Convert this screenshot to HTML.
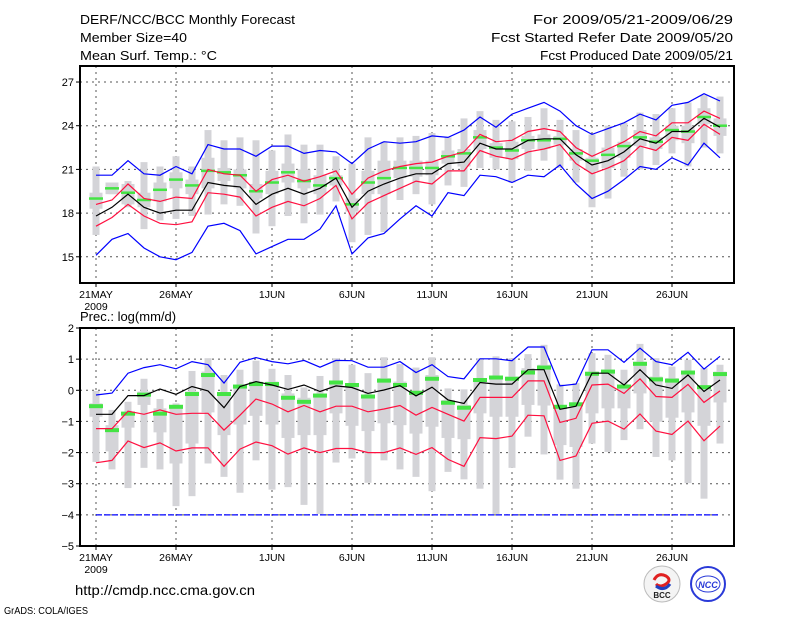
<!DOCTYPE html>
<html><head><meta charset="utf-8">
<style>
html,body{margin:0;padding:0;background:#fff;}
svg{display:block;font-family:"Liberation Sans","DejaVu Sans",sans-serif;}
</style></head>
<body>
<svg id="chart" width="800" height="618" viewBox="0 0 800 618" xmlns="http://www.w3.org/2000/svg">
<g font-size="13" fill="#000">
<text x="80" y="24" textLength="215" lengthAdjust="spacingAndGlyphs">DERF/NCC/BCC Monthly Forecast</text>
<text x="80" y="42" textLength="107" lengthAdjust="spacingAndGlyphs">Member Size=40</text>
<text x="80" y="60" textLength="137" lengthAdjust="spacingAndGlyphs">Mean Surf. Temp.: °C</text>
<text x="733" y="24" text-anchor="end" textLength="200" lengthAdjust="spacingAndGlyphs">For 2009/05/21-2009/06/29</text>
<text x="733" y="42" text-anchor="end" textLength="242" lengthAdjust="spacingAndGlyphs">Fcst Started Refer Date 2009/05/20</text>
<text x="733" y="60" text-anchor="end" textLength="193" lengthAdjust="spacingAndGlyphs">Fcst Produced Date 2009/05/21</text>
<text x="80" y="321">Prec.: log(mm/d)</text>
</g>
<g id="top"></g>
<g id="bot"></g>
<g>
<text x="75" y="595" font-size="14" textLength="180" lengthAdjust="spacingAndGlyphs">http://cmdp.ncc.cma.gov.cn</text>
<text x="4" y="614" font-size="10" textLength="84" lengthAdjust="spacingAndGlyphs">GrADS: COLA/IGES</text>
<g>
<circle cx="662" cy="584" r="18" fill="#f4f4f4" stroke="#bbb"/>
<path d="M654 580 q4 -8 12 -4 q6 4 0 8 q-6 4 -10 0" fill="none" stroke="#e02020" stroke-width="3"/>
<path d="M656 586 q8 6 14 -2" fill="none" stroke="#2040c0" stroke-width="3"/>
<text x="662" y="598" font-size="8" font-weight="bold" text-anchor="middle" fill="#222">BCC</text>
</g>
<g>
<circle cx="708" cy="584" r="17" fill="#fff" stroke="#2a3ad8" stroke-width="2"/>
<ellipse cx="708" cy="584" rx="12" ry="8" fill="none" stroke="#2a3ad8"/>
<text x="708" y="588" font-size="9" font-weight="bold" font-style="italic" text-anchor="middle" fill="#2a3ad8">NCC</text>
</g>
</g>
</svg>
<script>
// days: 2009-05-21 .. 2009-06-29
var dayCount = 40;
var tickDays = [0,5,11,16,21,26,31,36];
var tickLabels = ["21MAY","26MAY","1JUN","6JUN","11JUN","16JUN","21JUN","26JUN"];
var tempTicks = [15,18,21,24,27];
var precTicks = [-5,-4,-3,-2,-1,0,1,2];

// Temperature (°C)
var tMax = [20.6,20.6,21.6,20.7,20.6,21.2,20.7,22.7,22.4,22.4,21.9,22.6,22.6,22.1,22.3,22.2,21.4,22.4,22.9,22.8,22.9,23.3,23.2,23.7,24.6,23.9,24.8,25.2,25.6,25.0,24.0,23.4,23.8,24.2,24.8,24.4,25.4,25.6,26.2,25.7];
var tUpper = [18.6,18.9,20.0,19.0,18.8,19.1,19.0,21.0,20.7,20.6,19.5,20.3,20.6,20.2,20.5,20.9,19.3,20.4,20.9,21.2,21.4,21.5,21.9,22.2,23.4,22.9,23.0,23.6,23.8,23.6,22.5,21.9,22.4,22.9,23.6,23.3,24.2,24.2,25.0,24.5];
var tMean = [17.8,18.4,19.3,18.4,18.0,18.2,18.2,20.1,19.9,19.8,18.6,19.3,19.7,19.3,19.7,20.4,18.4,19.5,20.0,20.4,20.7,20.7,21.4,21.5,22.8,22.4,22.4,23.0,23.1,23.1,22.0,21.3,21.6,22.2,23.1,22.8,23.6,23.6,24.5,23.9];
var tLower = [17.1,17.7,18.6,17.8,17.3,17.2,17.4,19.4,19.3,19.1,17.8,18.4,18.8,18.5,19.0,19.9,17.6,18.7,19.2,19.7,20.2,20.0,20.9,20.9,22.3,21.9,21.7,22.2,22.4,22.7,21.4,20.7,21.1,21.6,22.6,22.3,23.2,23.0,24.1,23.4];
var tMin = [15.1,16.2,16.6,15.6,15.0,14.8,15.3,17.1,17.3,16.8,15.2,15.7,16.2,16.2,16.9,18.5,15.2,16.3,16.6,17.6,18.5,17.8,19.4,19.2,20.6,20.5,20.1,20.6,20.5,21.3,20.0,19.0,19.5,20.3,21.2,21.0,21.8,21.3,22.8,21.8];
var tObs = [19.0,19.7,19.4,18.9,19.6,20.3,19.9,20.9,20.8,20.6,19.5,20.1,20.8,20.2,19.9,20.4,18.6,20.1,20.4,21.1,21.1,21.1,21.9,22.1,23.2,22.5,22.3,23.0,23.0,23.1,22.1,21.6,22.0,22.6,23.2,22.9,23.7,23.6,24.6,24.0];
var tWhiskTop = [21.2,20.1,20.2,21.5,21.2,21.9,21.2,23.7,23.0,23.2,23.0,22.3,23.4,22.7,22.7,21.9,21.4,23.2,22.9,23.2,23.3,23.5,23.2,24.5,25.0,24.4,24.3,24.6,25.2,24.4,23.7,23.4,24.0,24.2,24.9,24.8,25.2,25.6,26.1,26.0];
var tWhiskBot = [16.5,19.3,18.4,16.9,17.5,17.6,17.8,17.9,18.6,18.5,16.6,17.1,17.8,17.3,17.9,18.8,16.0,16.5,16.7,18.9,19.3,18.6,19.9,19.8,21.1,21.0,20.1,20.9,21.6,21.1,20.1,18.4,19.0,20.5,21.0,21.3,22.1,21.2,22.5,22.1];
var tBoxTop = [19.4,20.1,20.0,19.4,20.1,20.8,20.3,21.8,21.1,21.0,20.0,20.9,21.4,21.0,20.6,20.6,19.0,20.9,21.6,21.6,21.6,21.6,22.3,22.4,23.7,22.8,22.9,23.3,23.4,23.3,22.4,21.8,22.5,22.9,23.7,23.2,24.0,24.0,25.2,24.5];
var tBoxBot = [18.3,19.3,18.6,18.4,18.8,19.7,19.3,19.7,20.2,19.7,19.0,19.3,20.1,19.7,19.3,19.9,18.1,19.3,19.3,20.4,20.5,20.6,21.4,21.2,22.4,21.8,21.7,22.4,22.4,22.7,21.6,20.9,21.1,21.8,22.6,22.4,23.0,22.8,24.1,23.3];

// Precipitation log(mm/d)
var pMax = [-0.15,-0.09,0.55,0.73,0.82,0.69,0.92,0.82,0.23,0.90,1.05,0.92,0.85,0.96,0.74,0.96,0.95,0.74,0.74,0.92,0.57,0.82,0.44,0.37,1.01,1.01,0.95,1.39,1.39,0.14,0.20,1.30,1.30,0.90,1.35,0.92,0.82,1.22,0.68,1.09];
var pUpper = [-1.23,-1.23,-0.67,-0.77,-0.63,-0.77,-0.74,-0.74,-1.28,-0.80,-0.28,-0.44,-0.69,-0.49,-0.69,-0.51,-0.51,-0.69,-0.60,-0.49,-0.80,-0.55,-0.77,-0.99,-0.23,-0.23,-0.23,0.30,0.30,-1.03,-0.90,0.17,0.20,-0.10,0.37,-0.20,-0.23,0.19,-0.39,-0.02];
var pMean = [-0.77,-0.77,-0.17,-0.17,0.04,-0.13,0.12,-0.02,-0.56,0.12,0.28,0.17,0.03,0.17,-0.04,0.14,0.09,-0.10,0.01,0.15,-0.18,0.10,-0.31,-0.42,0.25,0.20,0.20,0.66,0.66,-0.61,-0.51,0.55,0.55,0.17,0.66,0.17,0.06,0.49,-0.04,0.33];
var pLower = [-2.33,-2.25,-1.63,-1.84,-1.69,-1.95,-1.85,-1.85,-2.44,-1.89,-1.66,-1.78,-2.05,-1.85,-2.00,-1.87,-1.87,-2.00,-2.00,-1.85,-2.06,-1.84,-2.22,-2.44,-1.52,-1.55,-1.47,-0.80,-0.82,-2.25,-2.11,-1.06,-0.99,-1.25,-0.76,-1.31,-1.42,-0.99,-1.62,-1.15];
var pMin = [-4,-4,-4,-4,-4,-4,-4,-4,-4,-4,-4,-4,-4,-4,-4,-4,-4,-4,-4,-4,-4,-4,-4,-4,-4,-4,-4,-4,-4,-4,-4,-4,-4,-4,-4,-4,-4,-4,-4,-4];
var pObs = [-0.51,-1.28,-0.75,-0.14,-0.75,-0.53,-0.12,0.49,-0.12,0.12,0.20,0.20,-0.24,-0.37,-0.17,0.25,0.17,-0.20,0.31,0.17,-0.08,0.37,-0.40,-0.56,0.33,0.41,0.37,0.57,0.73,-0.53,-0.45,0.53,0.60,0.12,0.85,0.35,0.31,0.57,0.10,0.52];
var pWhiskTop = [-0.02,-0.63,-0.37,0.37,-0.28,-0.42,0.62,1.03,0.49,0.66,0.95,0.69,0.49,0.09,0.46,1.03,0.82,0.55,1.06,0.84,0.73,1.06,0.06,0.03,1.03,1.09,1.03,1.16,1.46,0.19,0.23,1.19,1.14,0.66,1.49,1.03,0.76,0.98,0.71,0.82];
var pWhiskBot = [-2.30,-2.54,-3.14,-2.49,-2.54,-3.72,-3.40,-2.35,-2.78,-3.29,-2.25,-3.19,-3.11,-3.68,-3.97,-2.32,-2.19,-2.97,-2.25,-2.54,-2.78,-3.24,-2.62,-2.86,-3.16,-3.97,-2.49,-1.49,-2.06,-2.87,-3.16,-1.71,-1.98,-1.60,-1.25,-2.14,-2.25,-2.98,-3.48,-1.71];
var pBoxTop = [-0.42,-1.12,-0.69,-0.04,-0.58,-0.47,-0.04,0.60,-0.15,0.17,0.28,0.28,-0.10,-0.24,-0.10,0.28,0.17,-0.15,0.39,0.28,-0.04,0.49,-0.31,-0.47,0.39,0.44,0.44,0.71,0.82,-0.47,-0.42,0.60,0.66,0.17,0.92,0.44,0.39,0.60,0.06,0.60];
var pBoxBot = [-0.85,-1.96,-1.20,-0.47,-1.35,-2.35,-1.71,-0.71,-1.44,-1.10,-0.82,-1.10,-1.53,-1.44,-1.44,-0.74,-1.14,-1.31,-1.06,-1.12,-1.39,-1.17,-1.53,-1.57,-0.74,-0.85,-0.85,-0.47,-0.49,-1.76,-1.82,-0.74,-0.58,-0.58,-0.10,-1.01,-0.88,-0.71,-1.14,-0.39];

var NS = "http://www.w3.org/2000/svg";
var X0 = 80, X1 = 734;
function xDay(i){ return 96 + 16 * i; }
function mk(tag, parent, attrs){
  var e = document.createElementNS(NS, tag);
  for (var k in attrs) e.setAttribute(k, attrs[k]);
  parent.appendChild(e);
  return e;
}

function panel(g, top, bottom, vTop, vBot, ticks, d){
  function y(v){ return top + (vTop - v) / (vTop - vBot) * (bottom - top); }
  ticks.forEach(function(t){
    if (t === vTop || t === vBot) return;
    var l = mk('line', g, {x1:X0, x2:X1, y1:y(t), y2:y(t), stroke:'#555', 'stroke-width':1, 'stroke-dasharray':'2,4'});
    
    
  });
  tickDays.forEach(function(dd){
    var l = mk('line', g, {x1:xDay(dd), x2:xDay(dd), y1:top, y2:bottom, stroke:'#555', 'stroke-width':1, 'stroke-dasharray':'2,4'});
    
    
  });
  for (var i = 0; i < dayCount; i++){
    var cx = xDay(i);
    var w = mk('rect', g, {x:cx-3.5, y:y(d.wt[i]), width:7, height:Math.max(0, y(d.wb[i]) - y(d.wt[i])), fill:'#d4d4d8'});
    
    
    var b = mk('rect', g, {x:cx-6.5, y:y(d.bt[i]), width:13, height:Math.max(0, y(d.bb[i]) - y(d.bt[i])), fill:'#d4d4d8'});
    
    
  }
  for (var i = 0; i < dayCount; i++){
    var o = mk('rect', g, {x:xDay(i)-7, y:y(d.obs[i]) - d.gh/2, width:14, height:d.gh, fill:'#44e444'});
    
    
  }
  function line(arr, color, name, dash){
    var pts = arr.map(function(v, i){ return xDay(i) + ',' + y(v).toFixed(1); }).join(' ');
    var p = mk('polyline', g, {points:pts, fill:'none', stroke:color, 'stroke-width':1.2});
    if (dash) p.setAttribute('stroke-dasharray', dash);
    
    
  }
  line(d.min, '#0000ff', 'min-line', d.minDash);
  line(d.lower, '#ff1040', 'lower-line');
  line(d.upper, '#ff1040', 'upper-line');
  line(d.max, '#0000ff', 'max-line');
  line(d.mean, '#000000', 'mean-line');
  var f = mk('rect', g, {x:X0, y:top, width:X1-X0, height:bottom-top, fill:'none', stroke:'#000', 'stroke-width':2});
  
  
  ticks.forEach(function(t){
    var tl = mk('line', g, {x1:76, x2:X0, y1:y(t), y2:y(t), stroke:'#000'});
    
    
    var tx = mk('text', g, {x:74, y:y(t)+4, 'text-anchor':'end', 'font-size':11});
    tx.textContent = (t < 0 ? '\u2212' + (-t) : String(t));
    
    
  });
  tickDays.forEach(function(dd, k){
    var tl = mk('line', g, {x1:xDay(dd), x2:xDay(dd), y1:bottom, y2:bottom+4, stroke:'#000'});
    
    
    var tx = mk('text', g, {x:xDay(dd), y:bottom+15, 'text-anchor':'middle', 'font-size':10.5});
    tx.textContent = tickLabels[k];
    
    
  });
  var yr = mk('text', g, {x:xDay(0), y:bottom+27, 'text-anchor':'middle', 'font-size':10.5});
  yr.textContent = '2009';
  
  
}

panel(document.getElementById('top'), 66, 283, 28.1, 13.2, tempTicks,
  {max:tMax, upper:tUpper, mean:tMean, lower:tLower, min:tMin, obs:tObs, wt:tWhiskTop, wb:tWhiskBot, bt:tBoxTop, bb:tBoxBot, gh:2.5});
panel(document.getElementById('bot'), 328, 546, 2, -5, precTicks,
  {max:pMax, upper:pUpper, mean:pMean, lower:pLower, min:pMin, obs:pObs, wt:pWhiskTop, wb:pWhiskBot, bt:pBoxTop, bb:pBoxBot, gh:4, minDash:'6,2'});
</script>
</body></html>
